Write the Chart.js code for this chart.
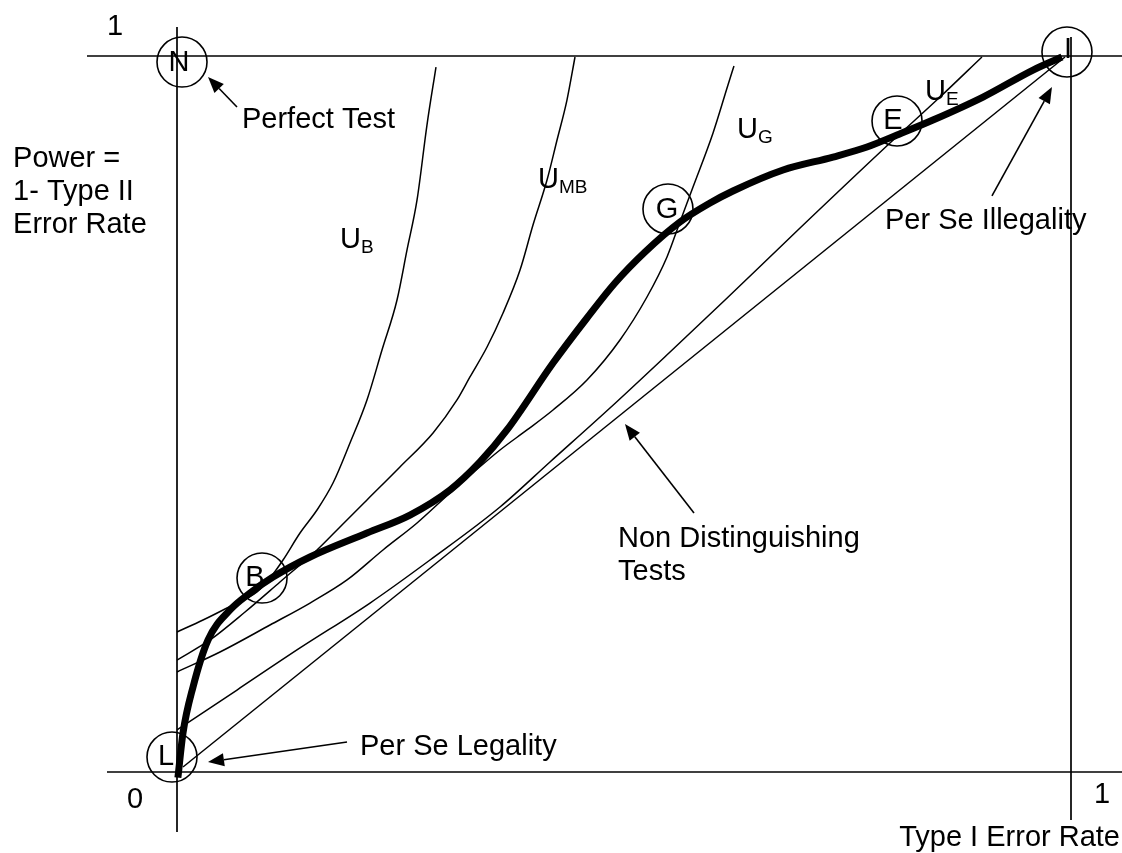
<!DOCTYPE html>
<html>
<head>
<meta charset="utf-8">
<title>Power vs Type I Error Rate</title>
<script src="https://cdn.jsdelivr.net/npm/chart.js@4.4.0/dist/chart.umd.min.js"></script>
<style>
  html, body { margin: 0; padding: 0; background: #fff; }
  #wrap { width: 1122px; height: 853px; position: relative; }
</style>
</head>
<body>
<div id="wrap"><canvas id="chart"></canvas></div>
<script>
// x = Type I error rate, y = power (1 - Type II error rate), both 0..1

// frame of the unit square, drawn a bit past the corners like the sketch
const topEdgeX = [-0.1007, 1.06];
const bottomEdgeX = [-0.0783, 1.06];
const leftEdgeY = [-0.0838, 1.0405];
const rightEdgeY = [-0.067, 1.0265];

// thick curve: the available tests L - B - G - E - I
const frontierX = [0.001, 0.0067, 0.0179, 0.0347, 0.0593, 0.0817, 0.1074, 0.1488, 0.2125, 0.2606,
  0.3054, 0.3389, 0.3691, 0.4206, 0.4586, 0.4899, 0.5235, 0.5626, 0.5962, 0.6219, 0.6779,
  0.7338, 0.7718, 0.8054, 0.8456, 0.9016, 0.9575, 0.9899];
const frontierY = [-0.008, 0.0545, 0.1187, 0.1844, 0.2263, 0.25, 0.2723, 0.3003, 0.3338, 0.3589,
  0.3939, 0.433, 0.4777, 0.5712, 0.6341, 0.683, 0.7263, 0.7682, 0.7947, 0.8115, 0.8408,
  0.8589, 0.8729, 0.8897, 0.9106, 0.9427, 0.9804, 0.9986];

// indifference curves
const ubX = [0, 0.0291, 0.0559, 0.0895, 0.104, 0.1186, 0.1376, 0.1566, 0.1745, 0.1935, 0.2125,
  0.2293, 0.2461, 0.2573, 0.2685, 0.2796, 0.2897];
const ubY = [0.1955, 0.2123, 0.2291, 0.2514, 0.2709, 0.2961, 0.3338, 0.3659, 0.4036, 0.4595, 0.5196,
  0.5894, 0.6592, 0.7291, 0.7989, 0.9036, 0.9846];

const umbX = [0, 0.0369, 0.0761, 0.1152, 0.1566, 0.1823, 0.2125, 0.2494, 0.2864, 0.3132, 0.3277,
  0.3468, 0.3647, 0.3837, 0.3982, 0.4139, 0.4251, 0.4362, 0.4452];
const umbY = [0.1564, 0.1844, 0.2235, 0.2654, 0.3101, 0.3422, 0.3799, 0.426, 0.4735, 0.5196, 0.5517,
  0.5936, 0.6411, 0.7011, 0.764, 0.8268, 0.8827, 0.9385, 0.9986];

const ugX = [0, 0.0481, 0.104, 0.1488, 0.1902, 0.2304, 0.2685, 0.3054, 0.3613, 0.3915, 0.4206,
  0.4586, 0.4955, 0.5257, 0.5481, 0.5626, 0.5772, 0.5996, 0.6163, 0.623];
const ugY = [0.1397, 0.1676, 0.2053, 0.236, 0.2682, 0.3101, 0.3478, 0.3897, 0.4497, 0.4777, 0.5056,
  0.5475, 0.6034, 0.6634, 0.7193, 0.7682, 0.817, 0.8925, 0.9595, 0.986];

const ueX = [0, 0.0671, 0.1376, 0.2159, 0.283, 0.3613, 0.4172, 0.4843, 0.5515, 0.613, 0.6969,
  0.7975, 0.8535, 0.9004];
const ueY = [0.0587, 0.1145, 0.1732, 0.236, 0.2961, 0.3701, 0.433, 0.5084, 0.5866, 0.6592, 0.7598,
  0.8785, 0.9427, 0.9986];

// non distinguishing tests (chance diagonal)
const diagX = [0.0067, 0.9933];
const diagY = [0.007, 0.9986];

// circled points
const pointNames = ['N', 'L', 'B', 'G', 'E', 'I'];
const pointX = [0.0056, -0.0056, 0.0951, 0.5492, 0.8054, 0.9955];
const pointY = [0.9916, 0.0209, 0.2709, 0.7863, 0.9092, 1.0056];

const zip = (xs, ys) => xs.map((x, i) => ({ x: x, y: ys[i] }));

const FONT = '"Liberation Sans", Arial, Helvetica, sans-serif';
const BIG = '29px ' + FONT;
const SMALL = '19px ' + FONT;

// text placed in data units; nudges for the circle letters are in pixels
const texts = [
  { t: '1', x: -0.0694, y: 1.0293, align: 'center' },
  { t: '0', x: -0.047, y: -0.0503, align: 'center' },
  { t: '1', x: 1.0347, y: -0.0433, align: 'center' },
  { t: 'Type I Error Rate', x: 1.0548, y: -0.1034, align: 'right' },
  { t: 'Power =', x: -0.1834, y: 0.845, align: 'left' },
  { t: '1- Type II', x: -0.1834, y: 0.7989, align: 'left' },
  { t: 'Error Rate', x: -0.1834, y: 0.7528, align: 'left' },
  { t: 'Perfect Test', x: 0.0727, y: 0.8994, align: 'left' },
  { t: 'Per Se Illegality', x: 0.7919, y: 0.7584, align: 'left' },
  { t: 'Non Distinguishing', x: 0.4933, y: 0.3142, align: 'left' },
  { t: 'Tests', x: 0.4933, y: 0.2682, align: 'left' },
  { t: 'Per Se Legality', x: 0.2047, y: 0.0237, align: 'left' }
];

const utilityLabels = [
  { sub: 'B', x: 0.1823, y: 0.7318 },
  { sub: 'MB', x: 0.4038, y: 0.8156 },
  { sub: 'G', x: 0.6264, y: 0.8855 },
  { sub: 'E', x: 0.8367, y: 0.9385 }
];

const arrows = [
  { from: [0.0671, 0.9288], to: [0.0347, 0.9707] },
  { from: [0.9116, 0.8045], to: [0.9787, 0.9567] },
  { from: [0.5783, 0.3617], to: [0.5011, 0.486] },
  { from: [0.1902, 0.0419], to: [0.0347, 0.014] }
];

const letterNudge = [[-3, -1], [-6, -2], [-7, -2], [-1, -1], [-4, -2], [1, -4]];

const annotations = {
  id: 'annotations',
  afterDatasetsDraw(chart) {
    const ctx = chart.ctx;
    const px = v => chart.scales.x.getPixelForValue(v);
    const py = v => chart.scales.y.getPixelForValue(v);
    ctx.save();
    ctx.fillStyle = '#000';
    ctx.strokeStyle = '#000';
    ctx.textBaseline = 'alphabetic';

    ctx.font = BIG;
    texts.forEach(l => {
      ctx.textAlign = l.align;
      ctx.fillText(l.t, px(l.x), py(l.y));
    });

    // U with subscript
    utilityLabels.forEach(l => {
      const x = px(l.x), y = py(l.y);
      ctx.textAlign = 'left';
      ctx.font = BIG;
      ctx.fillText('U', x, y);
      const w = ctx.measureText('U').width;
      ctx.font = SMALL;
      ctx.fillText(l.sub, x + w, y + 5);
    });

    // letters inside the circles
    ctx.font = BIG;
    ctx.textAlign = 'center';
    pointNames.forEach((n, i) => {
      ctx.fillText(n, px(pointX[i]) + letterNudge[i][0], py(pointY[i]) + letterNudge[i][1] + 10);
    });

    // arrows
    ctx.lineWidth = 1.6;
    arrows.forEach(a => {
      const x0 = px(a.from[0]), y0 = py(a.from[1]);
      const x1 = px(a.to[0]), y1 = py(a.to[1]);
      const ang = Math.atan2(y1 - y0, x1 - x0);
      const len = 16, half = 6.5;
      const bx = x1 - len * Math.cos(ang), by = y1 - len * Math.sin(ang);
      ctx.beginPath();
      ctx.moveTo(x0, y0);
      ctx.lineTo(bx, by);
      ctx.stroke();
      ctx.beginPath();
      ctx.moveTo(x1, y1);
      ctx.lineTo(bx + half * Math.sin(ang), by - half * Math.cos(ang));
      ctx.lineTo(bx - half * Math.sin(ang), by + half * Math.cos(ang));
      ctx.closePath();
      ctx.fill();
    });
    ctx.restore();
  }
};

function line(points, width, smooth) {
  return {
    data: points,
    showLine: true,
    borderColor: '#000',
    borderWidth: width,
    pointRadius: 0,
    fill: false,
    borderJoinStyle: 'round',
    cubicInterpolationMode: smooth ? 'monotone' : 'default',
    tension: 0
  };
}

const ctx = document.getElementById('chart').getContext('2d');

new Chart(ctx, {
  type: 'scatter',
  data: {
    datasets: [
      line(zip(topEdgeX, [1, 1]), 1.7),
      line(zip(bottomEdgeX, [0, 0]), 1.7),
      line(zip([0, 0], leftEdgeY), 1.7),
      line(zip([1, 1], rightEdgeY), 1.7),
      line(zip(diagX, diagY), 1.5),
      line(zip(ueX, ueY), 1.5, true),
      line(zip(ugX, ugY), 1.5, true),
      line(zip(umbX, umbY), 1.5, true),
      line(zip(ubX, ubY), 1.5, true),
      line(zip(frontierX, frontierY), 7, true),
      {
        data: zip(pointX, pointY),
        showLine: false,
        pointRadius: 25,
        pointBorderWidth: 1.6,
        pointBorderColor: '#000',
        pointBackgroundColor: 'rgba(0,0,0,0)'
      }
    ]
  },
  options: {
    responsive: true,
    maintainAspectRatio: false,
    devicePixelRatio: 1,
    animation: false,
    events: [],
    // no auto padding: the plot area must cover the whole canvas
    layout: { autoPadding: false, padding: 0 },
    scales: {
      x: { type: 'linear', min: -177 / 894, max: 945 / 894, display: false },
      y: { type: 'linear', min: -81 / 716, max: 772 / 716, display: false }
    },
    plugins: {
      legend: { display: false },
      tooltip: { enabled: false }
    }
  },
  plugins: [annotations]
});
</script>
</body>
</html>
